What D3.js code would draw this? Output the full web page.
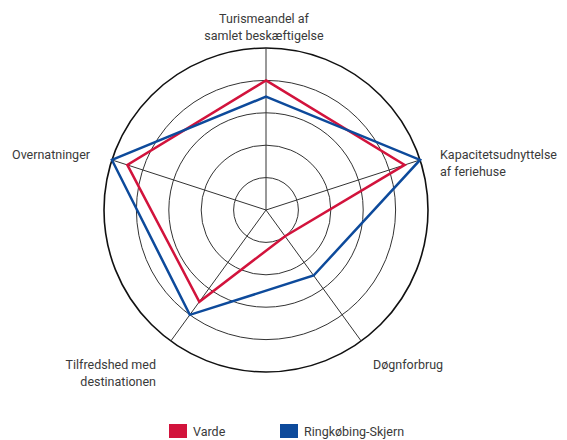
<!DOCTYPE html>
<html><head><meta charset="utf-8">
<script src="https://cdn.jsdelivr.net/npm/d3@7"></script>
<style>body{margin:0;background:#fff}svg{display:block}</style>
</head><body><svg id="c" width="567" height="440"></svg>
<script>
const axes = ["Turismeandel af|samlet beskæftigelse","Kapacitetsudnyttelse|af feriehuse","Døgnforbrug","Tilfredshed med|destinationen","Overnatninger"];
const seriesNames = ["Varde","Ringkøbing-Skjern"];
const varde = [4, 4.5, 1, 3.5, 4.5];
const ringkobing = [3.5, 5, 2.5, 4, 5];
const ringLevels = [1,2,3,4,5];
const colors = ["#d2133c","#0d4a9b"];

const svg = d3.select("#c");
const cx = 266, cy = 210, R = 162;
const r = d3.scaleLinear().domain([0,5]).range([0,R]);
const ang = d3.scalePoint().domain(d3.range(axes.length)).range([0, 2*Math.PI*(axes.length-1)/axes.length]);
const g = svg.append("g").attr("transform",`translate(${cx},${cy})`);
const pt = (i,v)=>[r(v)*Math.sin(ang(i)), -r(v)*Math.cos(ang(i))];

ringLevels.forEach(l=>{
  g.append("circle").attr("r", r(l)).attr("fill","none")
   .attr("stroke", l===5?"#111":"#333").attr("stroke-width", l===5?1.6:1);
});
axes.forEach((a,i)=>{
  const p = pt(i,5);
  g.append("line").attr("x1",0).attr("y1",0).attr("x2",p[0]).attr("y2",p[1]).attr("stroke","#333").attr("stroke-width",1);
});
const line = d3.line().curve(d3.curveLinearClosed);
[varde, ringkobing].forEach((s,k)=>{
  g.append("path").attr("d", line(s.map((v,i)=>pt(i,v)))).attr("fill","none")
   .attr("stroke",colors[k]).attr("stroke-width",2.5).attr("stroke-linejoin","miter");
});

const font = "Roboto, 'Liberation Sans', Arial, sans-serif";
const labelPos = [
  {x:264, y:23, anchor:"middle"},
  {x:440, y:159, anchor:"start"},
  {x:373, y:369, anchor:"start"},
  {x:156, y:369, anchor:"end"},
  {x:90, y:159, anchor:"end"}
];
axes.forEach((a,i)=>{
  const lp = labelPos[i];
  const t = svg.append("text").attr("x",lp.x).attr("y",lp.y).attr("text-anchor",lp.anchor)
    .attr("font-family",font).attr("font-size",12.5).attr("fill","#3a3a3a");
  a.split("|").forEach((ln,j)=>{
    t.append("tspan").attr("x",lp.x).attr("dy", j===0?0:16.5).text(ln);
  });
});

const legX = [169, 280];
seriesNames.forEach((n,k)=>{
  svg.append("rect").attr("x",legX[k]).attr("y",424).attr("width",18).attr("height",14).attr("fill",colors[k]);
  svg.append("text").attr("x",legX[k]+24).attr("y",436).attr("font-family",font).attr("font-size",12.5).attr("fill","#3a3a3a").text(n);
});
</script></body></html>
